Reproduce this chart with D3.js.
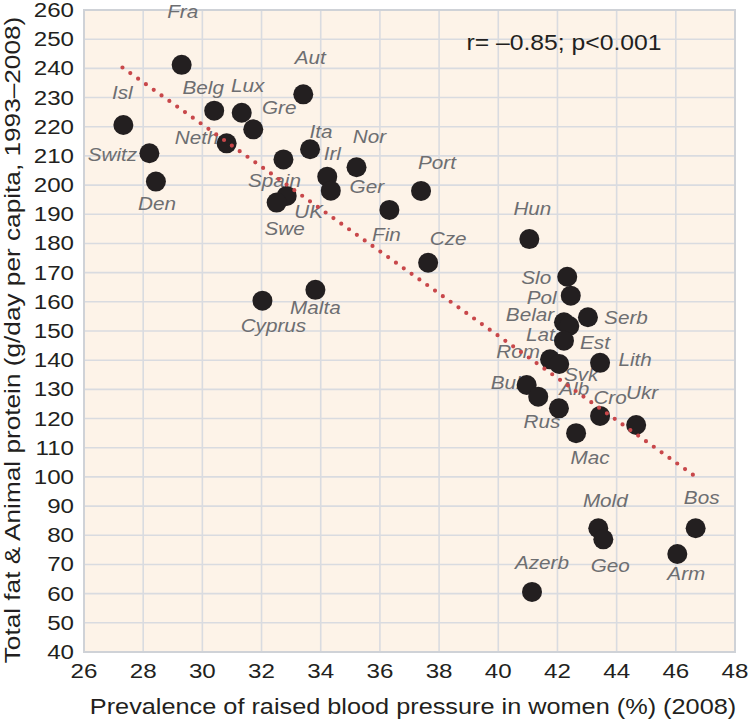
<!DOCTYPE html>
<html><head><meta charset="utf-8">
<script src="https://cdn.jsdelivr.net/npm/d3@7"></script>
<style>body{margin:0;background:#fff}svg{display:block}</style>
</head><body>
<script>
const countries = ["Fra","Isl","Belg","Lux","Gre","Aut","Switz","Den","Neth","Ita","Irl","Nor","Spain","Ger","UK","Swe","Fin","Port","Cze","Cyprus","Malta","Hun","Slo","Pol","Belar","Lat","Serb","Est","Lith","Rom","Svk","Bul","Alb","Rus","Cro","Ukr","Mac","Mold","Geo","Bos","Arm","Azerb"];
const bpWomen = [29.30,27.33,30.40,31.33,31.72,33.41,28.21,28.43,30.82,33.64,34.22,35.21,32.74,34.34,32.85,32.51,36.32,37.39,37.63,32.03,33.82,41.05,42.33,42.45,42.22,42.40,43.03,42.22,43.44,41.75,42.06,40.96,41.35,42.05,43.44,44.66,42.63,43.38,43.55,46.67,46.05,41.14];
const fatProtein = [241.2,220.6,225.5,224.8,219.1,231.1,210.9,201.2,214.3,212.3,202.9,206.1,208.8,198.1,196.3,194.0,191.5,198.0,173.4,160.4,164.1,181.5,168.6,162.1,153.0,151.7,154.7,146.7,139.1,140.3,138.7,131.5,127.5,123.5,120.9,117.8,115.0,82.4,78.6,82.4,73.6,60.6];
const xTicks = [26,28,30,32,34,36,38,40,42,44,46,48];
const yTicks = [40,50,60,70,80,90,100,110,120,130,140,150,160,170,180,190,200,210,220,230,240,250,260];
const trendX = [27.3, 46.6];
const trendY = [240.3, 100.6];
const xTitle = "Prevalence of raised blood pressure in women (%) (2008)";
const yTitle = "Total fat & Animal protein (g/day per capita, 1993–2008)";
const statText = "r= \u20130.85; p<0.001";

// label layout (pixel offsets from each dot)
const labelOffsets = {Fra:[1,-53],Isl:[-1,-32],Belg:[-11,-23],Lux:[6,-27],Gre:[26,-22],Aut:[7,-37],Switz:[-37,1],Den:[1,22],Neth:[-30,-6],Ita:[11,-18],Irl:[5,-23],Nor:[13,-31],Spain:[-9,21],Ger:[36,-4],UK:[22,16],Swe:[8,26],Fin:[-3,25],Port:[16,-28],Cze:[20,-24],Cyprus:[11,25],Malta:[0,18],Hun:[3,-31],Slo:[-31,1],Pol:[-29,2],Belar:[-34,-8],Lat:[-29,8],Serb:[38,0],Est:[31,2],Lith:[35,-3],Rom:[-32,-8],Svk:[22,11],Bul:[-21,-2],Alb:[36,-8],Rus:[-17,13],Cro:[10,-18],Ukr:[6,-32],Mac:[14,24],Mold:[7,-28],Geo:[7,26],Bos:[6,-31],Arm:[9,20],Azerb:[10,-29]};

const W = 750, H = 721;
const L = 84, R = 735, T = 10, B = 652;
const SX = 1.15;
const FONT = "'Liberation Sans', Arial, Helvetica, sans-serif";

const svg = d3.select("body").append("svg").attr("width", W).attr("height", H);
const x = d3.scaleLinear().domain([26,48]).range([L,R]);
const y = d3.scaleLinear().domain([40,260]).range([B,T]);

svg.append("rect").attr("x",L).attr("y",T).attr("width",R-L).attr("height",B-T).attr("fill","#fdf3e8");

const grid = svg.append("g").attr("stroke","#d9dbe0").attr("stroke-width",1.6);
grid.selectAll("line.v").data(xTicks).join("line").attr("class","v")
  .attr("x1",d=>x(d)).attr("x2",d=>x(d)).attr("y1",T).attr("y2",B);
grid.selectAll("line.h").data(yTicks).join("line").attr("class","h")
  .attr("x1",L).attr("x2",R).attr("y1",d=>y(d)).attr("y2",d=>y(d));
svg.append("rect").attr("x",L).attr("y",T).attr("width",R-L).attr("height",B-T)
  .attr("fill","none").attr("stroke","#cfd2d7").attr("stroke-width",2);

function stext(g, tx, ty, str, opts={}) {
  const t = g.append("text")
    .attr("transform", `translate(${tx},${ty})${opts.rot?` rotate(${opts.rot})`:""} scale(${SX},1)`)
    .attr("text-anchor", opts.anchor || "middle")
    .attr("dominant-baseline","central")
    .attr("font-family", FONT)
    .attr("font-size", opts.size || 21)
    .attr("fill", opts.fill || "#231f20")
    .text(str);
  if (opts.italic) t.attr("font-style","italic");
  return t;
}

const axisG = svg.append("g");
yTicks.forEach(v => stext(axisG, 74, y(v), v, {anchor:"end", size:21}));
xTicks.forEach(v => stext(axisG, x(v), 671, v, {size:21}));
stext(axisG, 413, 707, xTitle, {size:22});
stext(axisG, 12, 340, yTitle, {size:22.8, rot:-90});

const data = countries.map((c,i)=>({c, bx:bpWomen[i], fy:fatProtein[i]}));

const labG = svg.append("g");
data.forEach(d => {
  const o = labelOffsets[d.c];
  stext(labG, x(d.bx)+o[0], y(d.fy)+o[1], d.c, {size:18, italic:true, fill:"#6d6e71"});
});

svg.append("g").selectAll("circle").data(data).join("circle")
  .attr("cx",d=>x(d.bx)).attr("cy",d=>y(d.fy)).attr("r",10).attr("fill","#231f20");

svg.append("line")
  .attr("x1",x(trendX[0])).attr("y1",y(trendY[0]))
  .attr("x2",x(trendX[1])).attr("y2",y(trendY[1]))
  .attr("stroke","#c8474a").attr("stroke-width",4.2)
  .attr("stroke-linecap","round").attr("stroke-dasharray","0 9.6");

stext(svg, 564, 43, statText, {size:21.5});
</script>
</body></html>
